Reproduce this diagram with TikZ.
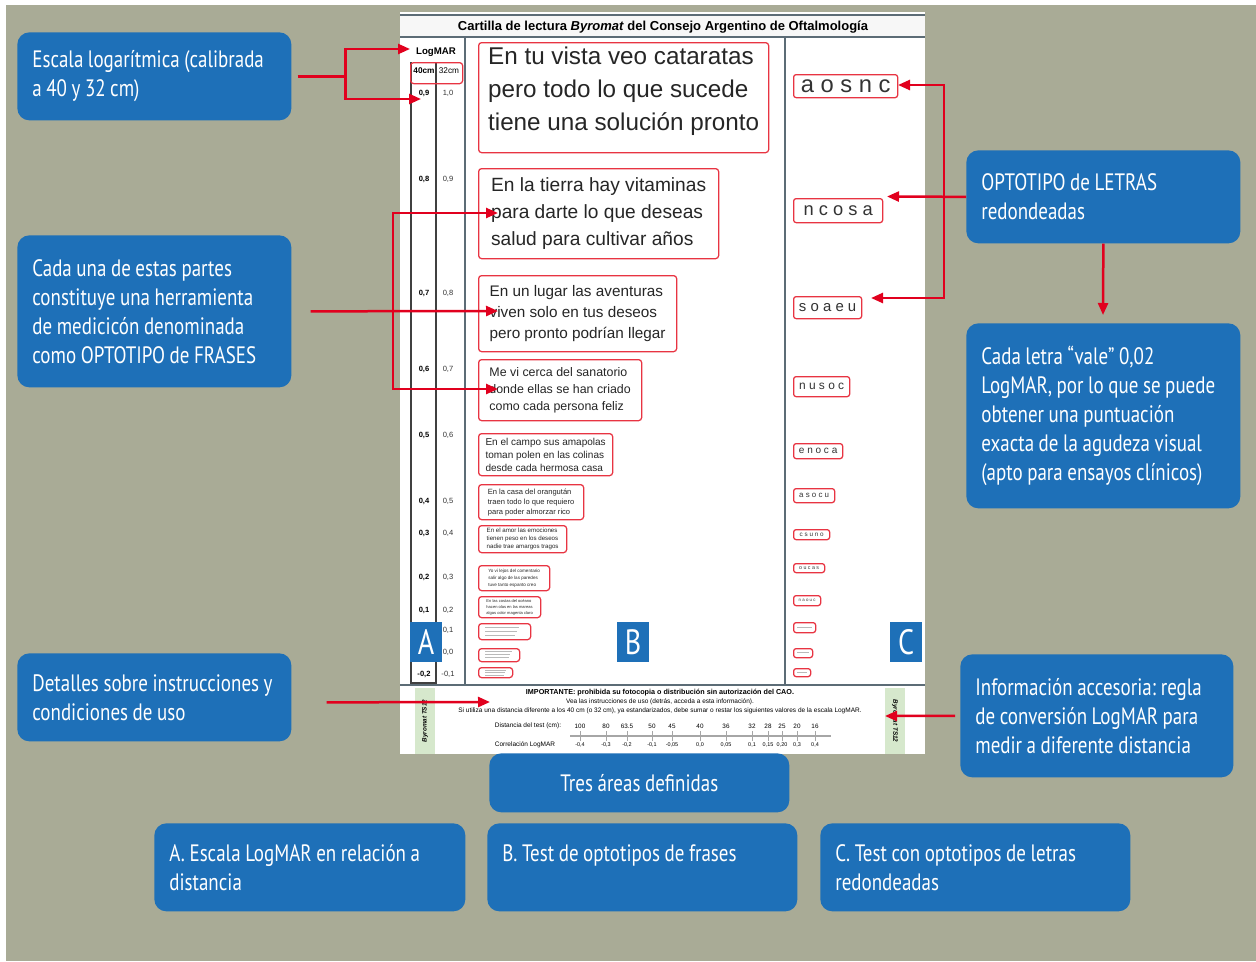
\documentclass[tikz,border=0pt]{standalone}
\usepackage{fontspec}
\setmainfont{Liberation Sans}
\newfontfamily\cajafont[FakeStretch=0.8]{PT Sans}
\usetikzlibrary{arrows.meta,positioning}
\definecolor{fondo}{RGB}{169,171,150}
\definecolor{cajazul}{RGB}{30,112,184}
\definecolor{flecharoja}{RGB}{225,0,30}
\definecolor{marcoroja}{RGB}{232,52,66}
\definecolor{pizarra}{RGB}{92,108,118}
\definecolor{verdeclaro}{RGB}{214,232,204}

\tikzset{
  caja/.style={fill=cajazul, rounded corners=2.4mm, text=white, anchor=north west,
    font=\cajafont\fontsize{13.5}{16.5}\selectfont, align=left, inner xsep=3mm, inner ysep=0pt,
    execute at begin node={\spaceskip=2.6pt\xspaceskip=2.8pt\relax}},
  frase/.style={draw=marcoroja, line width=0.25mm, rounded corners=0.6mm, anchor=north west,
    align=left, inner sep=0pt, text=black!85},
  letras/.style={draw=marcoroja, line width=0.25mm, rounded corners=0.5mm, anchor=north west,
    inner sep=0pt, text=black!80},
  zona/.style={fill=cajazul, text=white, anchor=north west, inner sep=0pt,
    minimum width=6.3mm, minimum height=8mm, font=\cajafont\fontsize{20}{20}\selectfont},
  flecha/.style={draw=flecharoja, line width=0.5mm, -{Triangle[length=2.4mm,width=2mm]}},
  linea/.style={draw=flecharoja, line width=0.5mm}
}

\begin{document}
\begin{tikzpicture}[x=0.2mm, y=-0.2mm]
\useasboundingbox (0,0) rectangle (1256,961);
% Background
\fill[white] (0,0) rectangle (1256,961);
\fill[fondo] (6,5) rectangle (1256,961);
\fill[white] (400,12) rectangle (925,754);

% Chart title
\fill[gray!6] (400,15) rectangle (925,37);
\draw[pizarra, line width=0.3mm] (400,15) -- (925,15);
\draw[pizarra, line width=0.3mm] (400,37) -- (925,37);
\node[font=\bfseries\fontsize{7.4}{8}\selectfont] (titulo) at (663,27)
  {Cartilla de lectura \textit{Byromat} del Consejo Argentino de Oftalmología};

% Column lines
\draw[black!75, line width=0.3mm] (411,62) -- (411,683) -- (436,683) -- (436,62);
\draw[pizarra, line width=0.3mm] (465,37) -- (465,685);
\draw[pizarra, line width=0.3mm] (785,37) -- (785,685);
\draw[pizarra, line width=0.4mm] (400,685) -- (925,685);

% LogMAR scale
\node[font=\bfseries\fontsize{5.5}{6}\selectfont] (logmar) at (436,52) {LogMAR};
\node[font=\bfseries\fontsize{4.7}{5}\selectfont] (cm40) at (424,71) {40cm};
\node[font=\fontsize{4.7}{5}\selectfont] (cm32) at (449,71) {32cm};
\node[draw=marcoroja, line width=0.25mm, rounded corners=0.6mm, anchor=north west,
      inner sep=0pt, minimum width=10.4mm, minimum height=4.2mm] (cabecera) at (410,62) {};
\foreach \y/\a/\b in {93/{0,9}/{1,0}, 179/{0,8}/{0,9}, 293/{0,7}/{0,8}, 369/{0,6}/{0,7},
    435/{0,5}/{0,6}, 501/{0,4}/{0,5}, 533/{0,3}/{0,4}, 577/{0,2}/{0,3}, 610/{0,1}/{0,2},
    674/{-0,2}/{-0,1}} {
  \node[font=\bfseries\fontsize{4.3}{5}\selectfont] (izq\y) at (424,\y) {\a};
  \node[font=\fontsize{4.3}{5}\selectfont, text=black!80] (der\y) at (448,\y) {\b};
}
\node[font=\fontsize{4.3}{5}\selectfont, text=black!80] (der630) at (448,630) {0,1};
\node[font=\fontsize{4.3}{5}\selectfont, text=black!80] (der652) at (448,652) {0,0};

% Sentence optotypes
\node[frase, minimum width=58mm, minimum height=22mm, text depth=3.6mm, font=\fontsize{13.8}{18.8}\selectfont] (frase1) at (478,42)
  {En tu vista veo cataratas\\pero todo lo que sucede\\tiene una solución pronto};
\node[frase, minimum width=48mm, minimum height=18mm, font=\fontsize{10.9}{15.4}\selectfont] (frase2) at (478,168)
  {En la tierra hay vitaminas\\para darte lo que deseas\\salud para cultivar años};
\node[frase, minimum width=39.6mm, minimum height=15.2mm, font=\fontsize{8.7}{11.9}\selectfont] (frase3) at (478,275)
  {En un lugar las aventuras\\viven solo en tus deseos\\pero pronto podrían llegar};
\node[frase, minimum width=32.6mm, minimum height=12.2mm, font=\fontsize{7.06}{9.7}\selectfont] (frase4) at (478,359)
  {Me vi cerca del sanatorio\\donde ellas se han criado\\como cada persona feliz};
\node[frase, minimum width=26.8mm, minimum height=8.4mm, font=\fontsize{5.7}{7.4}\selectfont] (frase5) at (478,433)
  {En el campo sus amapolas\\toman polen en las colinas\\desde cada hermosa casa};
\node[frase, minimum width=21mm, minimum height=7mm, font=\fontsize{4.3}{5.7}\selectfont] (frase6) at (478,484)
  {En la casa del orangután\\traen todo lo que requiero\\para poder almorzar rico};
\node[frase, minimum width=17.6mm, minimum height=5.4mm, font=\fontsize{3.5}{4.55}\selectfont] (frase7) at (478,525)
  {En el amor las emociones\\tienen peso en los deseos\\nadie trae amargos tragos};
\node[frase, minimum width=14.2mm, minimum height=5mm, font=\fontsize{2.6}{4}\selectfont] (frase8) at (478,565)
  {Yo vi lejos del comentario\\salir algo de las paredes\\tuve tanto espanto creo};
\node[frase, minimum width=12.4mm, minimum height=4.2mm, font=\fontsize{2.3}{3.4}\selectfont] (frase9) at (478,596)
  {En las costas del océano\\hacen olas en las mareas\\algas color magenta claro};
\node[frase, minimum width=10.4mm, minimum height=3.2mm] (frase10) at (478,623) {};
\node[frase, minimum width=8.2mm, minimum height=2.6mm] (frase11) at (478,648) {};
\node[frase, minimum width=6.8mm, minimum height=2mm] (frase12) at (478,667) {};
\foreach \y/\l in {627/34, 631/32, 635/30, 651/27, 654/25, 657/24, 670/21, 672.5/20, 675/19}
  \draw[gray!55, line width=0.15mm] (485,\y) -- ++(\l,0);

% Letter optotypes
\node[letras, minimum width=20.8mm, minimum height=4.6mm, font=\fontsize{13.5}{14}\selectfont] (letras1) at (793,74) {a o s n c};
\node[letras, minimum width=17.8mm, minimum height=4.8mm, font=\fontsize{10.4}{11}\selectfont] (letras2) at (793,198) {n c o s a};
\node[letras, minimum width=13.6mm, minimum height=4.4mm, font=\fontsize{8.5}{9}\selectfont] (letras3) at (793,296) {s o a e u};
\node[letras, minimum width=11.2mm, minimum height=4mm, font=\fontsize{6.8}{7}\selectfont] (letras4) at (793,376) {n u s o c};
\node[letras, minimum width=9.8mm, minimum height=3mm, font=\fontsize{5.7}{6}\selectfont] (letras5) at (793,443) {e n o c a};
\node[letras, minimum width=8.2mm, minimum height=2.8mm, font=\fontsize{4.5}{5}\selectfont] (letras6) at (793,488) {a s o c u};
\node[letras, minimum width=7.2mm, minimum height=2mm, font=\fontsize{3.6}{4}\selectfont] (letras7) at (793,529) {c s u n o};
\node[letras, minimum width=6.2mm, minimum height=1.8mm, font=\fontsize{3}{3.4}\selectfont] (letras8) at (793,563) {o u c a s};
\node[letras, minimum width=5.4mm, minimum height=2mm, font=\fontsize{2.5}{3}\selectfont] (letras9) at (793,595) {n a o u c};
\node[letras, minimum width=4.4mm, minimum height=2mm] (letras10) at (793,622) {};
\node[letras, minimum width=3.8mm, minimum height=1.8mm] (letras11) at (793,648) {};
\node[letras, minimum width=3.4mm, minimum height=1.6mm] (letras12) at (793,668) {};
\foreach \y/\l in {627/15, 652.5/12, 672/10}
  \draw[gray!55, line width=0.15mm] (797,\y) -- ++(\l,0);

% Bottom information strip
\fill[verdeclaro] (415,688) rectangle (435,754);
\fill[verdeclaro] (885,688) rectangle (905,754);
\node[rotate=90, font=\bfseries\itshape\fontsize{3.6}{4}\selectfont] (byromatIzq) at (425,721) {Byromat TS12};
\node[rotate=-90, font=\bfseries\itshape\fontsize{3.6}{4}\selectfont] (byromatDer) at (895,721) {Byromat TS12};
\node[font=\bfseries\fontsize{4.1}{5}\selectfont] (importante) at (660,693)
  {IMPORTANTE: prohibida su fotocopia o distribución sin autorización del CAO.};
\node[font=\fontsize{3.7}{4.5}\selectfont] (vea) at (660,702)
  {Vea las instrucciones de uso (detrás, acceda a esta información).};
\node[font=\fontsize{3.7}{4.5}\selectfont] (siutiliza) at (660,711)
  {Si utiliza una distancia diferente a los 40 cm (o 32 cm), ya estandarizados, debe sumar o restar los siguientes valores de la escala LogMAR.};
\node[font=\fontsize{3.7}{4.5}\selectfont] (distancia) at (528,726) {Distancia del test (cm):};
\node[font=\fontsize{3.7}{4.5}\selectfont] (correlacion) at (525,745) {Correlación LogMAR};
\draw[gray!70, line width=0.3mm] (570,736) -- (831,736);
\foreach \x/\d/\c in {580/100/{-0,4}, 606/80/{-0,3}, 627/63.5/{-0,2}, 652/50/{-0,1}, 672/45/{-0,05},
    700/40/{0,0}, 726/36/{0,05}, 752/32/{0,1}, 768/28/{0,15}, 782/25/{0,20}, 797/20/{0,3}, 815/16/{0,4}} {
  \draw[gray!70, line width=0.2mm] (\x,731) -- (\x,741);
  \node[font=\fontsize{3.6}{4.5}\selectfont] (dist\x) at (\x,726) {\d};
  \node[font=\fontsize{3.1}{4}\selectfont] (corr\x) at (\x,745) {\c};
}

% Zones A, B, C
\node[zona] (zonaA) at (410,622) {A};
\node[zona] (zonaB) at (617,622) {B};
\node[zona] (zonaC) at (890,622) {C};

% Blue callouts
\node[caja, minimum width=54.8mm, minimum height=17.6mm, text width=48.8mm] (escala) at (17,32)
  {Escala logarítmica (calibrada\\a 40 y 32 cm)};
\node[caja, minimum width=54.8mm, minimum height=30.4mm, text width=48.8mm] (partes) at (17,235)
  {Cada una de estas partes\\constituye una herramienta\\de medicicón denominada\\como OPTOTIPO de FRASES};
\node[caja, minimum width=54.8mm, minimum height=17.6mm, text width=48.8mm] (detalles) at (17,653)
  {Detalles sobre instrucciones y\\condiciones de uso};
\node[caja, minimum width=54.6mm, minimum height=24.6mm, text width=48.6mm] (informacion) at (960,654)
  {Información accesoria: regla\\de conversión LogMAR para\\medir a diferente distancia};
\node[caja, minimum width=60mm, minimum height=11.8mm, text width=54mm, align=center] (tresareas) at (489,753)
  {Tres áreas definidas};
\node[caja, minimum width=62.2mm, minimum height=17.6mm, text width=56.2mm] (cajaA) at (154,823)
  {A. Escala LogMAR en relación a\\distancia};
\node[caja, minimum width=62mm, minimum height=17.6mm, text width=56mm] (cajaB) at (487,823)
  {B. Test de optotipos de frases\\\mbox{}};
\node[caja, minimum width=62mm, minimum height=17.6mm, text width=56mm] (cajaC) at (820,823)
  {C. Test con optotipos de letras\\redondeadas};
\node[caja, minimum width=54.8mm, minimum height=18.6mm, text width=48.8mm] (optotipo) at (966,150)
  {OPTOTIPO de LETRAS\\redondeadas};
\node[caja, minimum width=54.8mm, minimum height=37mm, text width=48.8mm] (cadaletra) at (966,323)
  {Cada letra “vale” 0,02\\LogMAR, por lo que se puede\\obtener una puntuación\\exacta de la agudeza visual\\(apto para ensayos clínicos)};

% Red connectors
\coordinate (jEscala) at ([xshift=10.8mm]escala.east);
\coordinate (puntaLogmar) at (410,49);
\coordinate (punta09) at (421,99);
\draw[linea] ([xshift=1.2mm]escala.east) -- (jEscala);
\draw[flecha] (jEscala) |- (puntaLogmar);
\draw[flecha] (jEscala) |- (punta09);

\coordinate (jFrases) at (393,311);
\coordinate (puntaF2) at (498,213);
\coordinate (puntaF3) at (498,311);
\coordinate (puntaF4) at (498,389);
\draw[flecha] ([xshift=3.8mm]partes.east) -- (puntaF3);
\draw[flecha] (jFrases) |- (puntaF2);
\draw[flecha] (jFrases) |- (puntaF4);

\coordinate (jLetras) at (944,196.5);
\coordinate (puntaL1) at (898,85);
\coordinate (puntaL2) at (887,196.5);
\coordinate (puntaL3) at (871,298);
\draw[flecha] (optotipo.west) -- (puntaL2);
\draw[flecha] (jLetras) |- (puntaL1);
\draw[flecha] (jLetras) |- (puntaL3);

\coordinate (puntaCada) at (1103,315);
\draw[flecha] (optotipo.south) -- (puntaCada);

\coordinate (puntaDetalles) at (490,702);
\draw[flecha] ([xshift=7mm,yshift=-1mm]detalles.east) -- (puntaDetalles);
\coordinate (puntaInfo) at (885,716);
\draw[flecha] ([xshift=-1mm]informacion.west) -- (puntaInfo);
\end{tikzpicture}
\end{document}
